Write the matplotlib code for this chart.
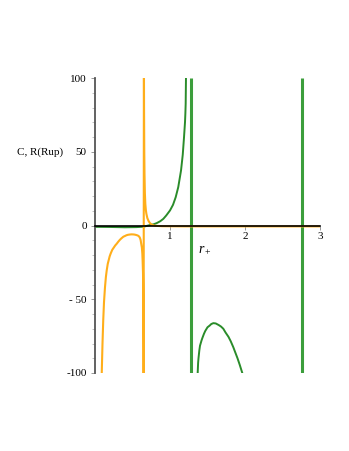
import matplotlib
matplotlib.use("Agg")
import matplotlib.pyplot as plt
from matplotlib.ticker import MultipleLocator

# ---- data ----
orange_x = [0.088, 0.09, 0.095, 0.10, 0.105, 0.11, 0.12, 0.133, 0.145, 0.156, 0.17,
            0.18, 0.195, 0.209, 0.23, 0.25, 0.27, 0.289, 0.31, 0.33, 0.35, 0.378,
            0.40, 0.42, 0.44, 0.467, 0.49, 0.52, 0.54, 0.56, 0.578, 0.59, 0.60,
            0.609, 0.615, 0.625, 0.631, 0.635, 0.64, 0.642, 0.644, 0.647, 0.648,
            0.652, 0.654, 0.657, 0.66, 0.665, 0.671, 0.678, 0.685, 0.698, 0.715,
            0.733, 0.76, 0.8, 0.9, 1.2, 1.6, 2.0, 2.5, 3.0]
orange_y = [-110, -100, -90, -80, -72, -64, -52, -42, -35, -30.5, -26,
            -24, -21, -19, -16.5, -15, -13.5, -12.4, -11, -9.8, -8.8, -7.6,
            -7.1, -6.6, -6.3, -6.1, -6.0, -6.1, -6.3, -6.6, -7.0, -7.6, -8.5,
            -10, -12, -15, -19, -24, -32, -40, -55, -85, -120,
            120, 80, 50, 35, 22, 14.7, 10.5, 8.0, 5.0, 3.0,
            1.6, 0.5, -0.2, -0.5, -0.6, -0.6, -0.6, -0.6, -0.6]

green_x = [0.0, 0.2, 0.4, 0.55, 0.65, 0.733, 0.78, 0.822, 0.87, 0.911, 0.95, 1.0,
           1.04, 1.076, 1.11, 1.147, 1.17, 1.187, 1.2, 1.205, 1.209, 1.213, 1.217]
green_y = [-0.9, -1.0, -1.2, -1.1, -0.8, 0.3, 0.8, 1.6, 2.9, 4.5, 6.8, 10.2,
           14, 19.2, 26, 37.3, 48, 59.9, 70, 76, 82.5, 100, 115]

green2_x = [1.365, 1.369, 1.375, 1.38, 1.391, 1.40, 1.42, 1.43, 1.453, 1.47, 1.5,
            1.53, 1.55, 1.578, 1.61, 1.65, 1.68, 1.711, 1.74, 1.78, 1.81, 1.844,
            1.87, 1.9, 1.93, 1.964, 1.975]
green2_y = [-110, -100, -93, -90, -84.7, -81.5, -78, -76.5, -73.4, -71.5, -69,
            -67.8, -66.8, -66.2, -66.4, -67.5, -68.5, -70, -72.5, -75.5, -78.5, -82.5,
            -86, -90, -94.5, -100, -103]

asymptotes_x = [1.276, 2.765]

x_ticks = [1, 2, 3]
x_tick_labels = ["1", "2", "3"]
y_ticks = [-100, -50, 0, 50, 100]
y_tick_labels = ["-100", "- 50", "0", "50", "100"]

plt.rcParams['font.family'] = ['Liberation Serif', 'DejaVu Serif']
plt.rcParams['mathtext.fontset'] = 'custom'
plt.rcParams['mathtext.rm'] = 'Liberation Serif'
plt.rcParams['mathtext.it'] = 'Liberation Serif:italic'

fig = plt.figure(figsize=(3.49, 4.51), dpi=100)
ax = fig.add_axes([95/349, 1-373/451, 225/349, 295/451])

orange = '#FFAE1A'
green = '#2A8C2A'
green_v = '#3C9E3C'

ax.plot(orange_x, orange_y, color=orange, lw=1.5, zorder=3,
        solid_joinstyle='round', solid_capstyle='round')
ax.plot(green_x, green_y, color=green, lw=1.4, zorder=2, solid_joinstyle='round')
ax.plot(green2_x, green2_y, color=green, lw=1.4, zorder=2, solid_joinstyle='round')
ax.vlines(asymptotes_x, -100, 100, color=green_v, lw=2.2, zorder=2)

ax.set_xlim(0, 3)
ax.set_ylim(-100, 100)

for s in ['top', 'right']:
    ax.spines[s].set_visible(False)
ax.spines['bottom'].set_position(('data', 0))
ax.spines['bottom'].set_color('black')
ax.spines['bottom'].set_linewidth(1.2)
ax.spines['bottom'].set_zorder(4)
ax.spines['left'].set_color('#555555')
ax.spines['left'].set_linewidth(1.3)

ax.set_xticks(x_ticks)
ax.set_xticklabels(x_tick_labels)
ax.set_yticks(y_ticks)
ax.set_yticklabels(y_tick_labels)
ax.yaxis.set_minor_locator(MultipleLocator(10))
ax.tick_params(axis='both', which='major', labelsize=8, length=3, width=0.6,
               color='#888888', pad=3)
ax.tick_params(axis='y', which='minor', length=2, width=0.5, color='#aaaaaa')
ax.tick_params(axis='x', which='major', pad=2)

ax.text(1.47, -15.5, r'$r_+$', fontsize=10, ha='center', va='center')
fig.text(40/349, 1-152/451, 'C, R(Rup)', fontsize=8, ha='center', va='center')

fig.savefig('out.png', dpi=100)
